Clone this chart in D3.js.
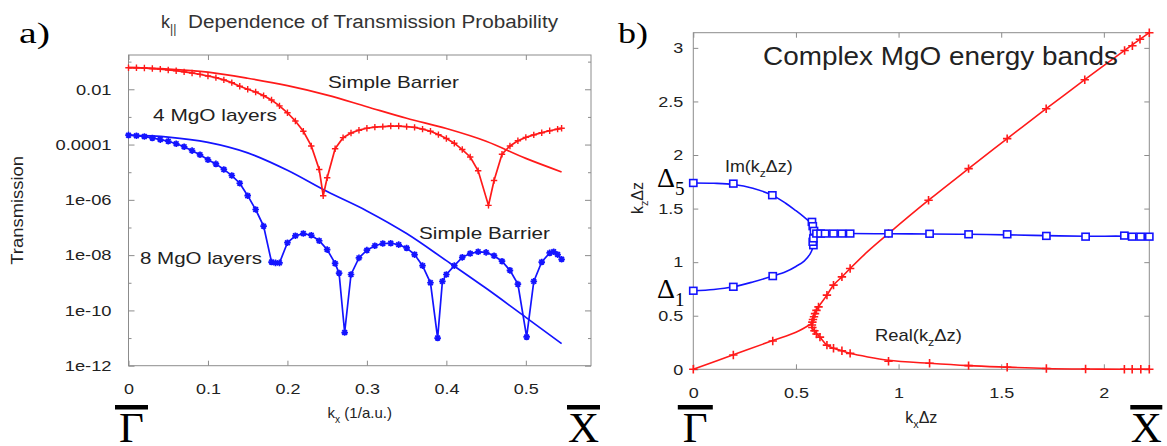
<!DOCTYPE html>
<html><head><meta charset="utf-8">
<script src="https://cdn.jsdelivr.net/npm/d3@7"></script>
<style>body{margin:0;background:#fff}svg{display:block}</style>
</head><body><svg id="c" width="1167" height="446"></svg>
<script>
// ---------- DATA: panel a (log10 of transmission vs kx in 1/a.u.) ----------
const kxTicks = [0, 0.1, 0.2, 0.3, 0.4, 0.5];
const tTickValues = [1e-2, 1e-4, 1e-6, 1e-8, 1e-10, 1e-12];
const tTickLabels = ["0.01", "0.0001", "1e-06", "1e-08", "1e-10", "1e-12"];
const tMinorTicks = [1e-1, 1e-3, 1e-5, 1e-7, 1e-9, 1e-11];

const barrierKx = [0, 0.05, 0.10, 0.15, 0.20, 0.25, 0.30, 0.35, 0.40, 0.45, 0.50, 0.545];
const barrierRedLogT = [-1.22, -1.27, -1.38, -1.60, -1.87, -2.21, -2.63, -3.05, -3.42, -3.88, -4.50, -4.99];
const barrierBlueLogT = [-3.66, -3.73, -3.92, -4.30, -4.93, -5.70, -6.40, -7.22, -8.20, -9.20, -10.25, -11.2];

const mgo4Kx = [0,0.01,0.02,0.03,0.04,0.05,0.06,0.07,0.08,0.09,0.10,0.11,0.12,0.13,0.14,0.15,0.16,0.17,0.18,0.19,0.20,0.21,0.22,0.23,0.24,0.245,0.25,0.26,0.27,0.28,0.29,0.30,0.31,0.32,0.33,0.34,0.35,0.36,0.37,0.38,0.39,0.40,0.41,0.42,0.43,0.44,0.453,0.46,0.47,0.48,0.49,0.50,0.51,0.52,0.53,0.54,0.545];
const mgo4LogT = [-1.22,-1.22,-1.23,-1.25,-1.27,-1.30,-1.33,-1.37,-1.41,-1.46,-1.52,-1.58,-1.66,-1.76,-1.89,-2.00,-2.10,-2.23,-2.39,-2.60,-2.85,-3.15,-3.52,-4.05,-4.90,-5.85,-5.20,-4.15,-3.75,-3.58,-3.48,-3.41,-3.37,-3.35,-3.33,-3.33,-3.35,-3.38,-3.44,-3.52,-3.64,-3.78,-3.95,-4.18,-4.45,-4.95,-6.20,-5.30,-4.35,-4.05,-3.86,-3.74,-3.65,-3.57,-3.50,-3.44,-3.41];

const mgo8Kx = [0,0.01,0.02,0.03,0.04,0.05,0.06,0.07,0.08,0.09,0.10,0.11,0.12,0.13,0.14,0.15,0.16,0.17,0.18,0.185,0.19,0.20,0.21,0.22,0.23,0.24,0.25,0.26,0.265,0.272,0.28,0.29,0.30,0.31,0.32,0.33,0.34,0.35,0.36,0.37,0.38,0.389,0.395,0.40,0.41,0.42,0.43,0.44,0.45,0.46,0.47,0.48,0.49,0.501,0.51,0.52,0.53,0.535,0.54,0.545];
const mgo8LogT = [-3.66,-3.68,-3.71,-3.76,-3.82,-3.88,-3.97,-4.08,-4.22,-4.37,-4.55,-4.70,-4.90,-5.12,-5.40,-5.85,-6.35,-6.95,-8.25,-8.28,-8.28,-7.55,-7.30,-7.22,-7.28,-7.48,-7.80,-8.30,-8.65,-10.8,-8.70,-8.10,-7.82,-7.66,-7.58,-7.57,-7.62,-7.74,-7.98,-8.38,-9.00,-11.0,-8.95,-8.70,-8.38,-8.08,-7.94,-7.88,-7.90,-8.02,-8.22,-8.55,-9.05,-10.96,-8.95,-8.25,-7.92,-7.88,-7.98,-8.15];

// ---------- DATA: panel b (complex bands, kz*dz vs kx*dz) ----------
const kxdzTicks = [0, 0.5, 1, 1.5, 2];
const kzdzTicks = [0, 0.5, 1, 1.5, 2, 2.5, 3];

const realRiseX = [0, 0.195, 0.387, 0.5, 0.575];
const realRiseY = [0, 0.135, 0.268, 0.345, 0.425];
const realUpX = [0.575,0.58,0.59,0.61,0.651,0.683,0.724,0.764,0.85,0.951,1.146,1.341,1.529,1.719,1.907,2.101,2.2214];
const realUpY = [0.425,0.47,0.52,0.583,0.692,0.786,0.863,0.941,1.10,1.267,1.578,1.873,2.153,2.432,2.703,2.976,3.1416];
const realLowX = [0.575,0.58,0.593,0.617,0.651,0.683,0.724,0.764,0.85,0.951,1.151,1.341,1.529,1.72,1.911,2.10,2.2214];
const realLowY = [0.425,0.385,0.35,0.30,0.226,0.196,0.173,0.149,0.115,0.085,0.056,0.034,0.02,0.008,0.003,0.001,0];
const realMarkX = [0,0.195,0.387,0.578,0.58,0.583,0.588,0.593,0.60,0.61,0.651,0.683,0.724,0.764,0.951,1.146,1.341,1.529,1.719,1.907,2.101,2.139,2.176,2.2214,0.58,0.59,0.60,0.617,0.651,0.683,0.724,0.764,0.951,1.151,1.341,1.529,1.72,1.911,2.10,2.138,2.18,2.2214];
const realMarkY = [0,0.133,0.264,0.413,0.44,0.465,0.49,0.52,0.55,0.583,0.692,0.786,0.863,0.941,1.267,1.578,1.873,2.153,2.432,2.703,2.976,3.02,3.08,3.1416,0.39,0.36,0.33,0.30,0.226,0.196,0.173,0.149,0.075,0.056,0.034,0.019,0.008,0.003,0,0,0,0];

const imUpX = [0,0.1,0.195,0.29,0.385,0.45,0.5,0.54,0.57,0.585,0.595,0.6];
const imUpY = [1.739,1.736,1.725,1.69,1.625,1.55,1.48,1.42,1.37,1.33,1.29,1.267];
const imLowX = [0,0.1,0.195,0.29,0.387,0.45,0.5,0.54,0.57,0.585,0.595,0.6];
const imLowY = [0.733,0.745,0.77,0.815,0.87,0.91,0.96,1.01,1.08,1.15,1.22,1.262];
const imFlatX = [0.6,0.642,0.683,0.724,0.764,0.951,1.151,1.341,1.529,1.72,1.911,2.10,2.138,2.179,2.2214];
const imFlatY = [1.267,1.268,1.268,1.268,1.267,1.265,1.263,1.26,1.255,1.248,1.242,1.242,1.238,1.238,1.238];
const imMarkX = [0,0.195,0.385,0.578,0.582,0.588,0,0.195,0.387,0.585,0.582,0.585,0.60,0.62,0.642,0.683,0.724,0.764,0.951,1.151,1.341,1.529,1.72,1.911,2.10,2.138,2.179,2.2214];
const imMarkY = [1.739,1.733,1.625,1.376,1.336,1.292,0.733,0.77,0.87,1.158,1.19,1.222,1.267,1.267,1.267,1.267,1.267,1.267,1.267,1.265,1.26,1.26,1.245,1.238,1.248,1.238,1.238,1.238];

// ---------- helpers ----------
const SANS = '"Liberation Sans", Arial, Helvetica, sans-serif';
const SERIF = '"Liberation Serif", "Times New Roman", serif';
const RED = '#ff1a1a', BLUE = '#1414ff', FRAME = '#8c8c8c', INK = '#222';
const zip = (a, b) => a.map((v, i) => [v, b[i]]);
const svg = d3.select('#c');

function stretch(sel, f) {
  sel.each(function () {
    const w = this.getComputedTextLength();
    this.setAttribute('textLength', (w * f).toFixed(1));
    this.setAttribute('lengthAdjust', 'spacingAndGlyphs');
  });
}
function rich(parent, x, y, parts, size, anchor) {
  const t = parent.append('text').attr('x', x).attr('y', y)
    .attr('font-family', SANS).attr('font-size', size).attr('fill', INK)
    .attr('text-anchor', anchor || 'start');
  let sub = false;
  parts.forEach(p => {
    const s = p.startsWith('_');
    const ts = t.append('tspan').text(s ? p.slice(1) : p);
    if (s && !sub) ts.attr('dy', size * 0.3).attr('font-size', size * 0.68);
    else if (!s && sub) ts.attr('dy', -size * 0.3);
    else if (s) ts.attr('font-size', size * 0.68);
    sub = s;
  });
  return t;
}
const plusPath = r => `M${-r},0H${r}M0,${-r}V${r}`;
const starPath = r => { const a = r * 0.72; return `M${-r},0H${r}M0,${-r}V${r}M${-a},${-a}L${a},${a}M${-a},${a}L${a},${-a}`; };

function styleAxis(g, size) {
  g.select('.domain').remove();
  g.selectAll('.tick line').attr('stroke', FRAME).attr('stroke-width', 1);
  g.selectAll('text').attr('fill', INK).attr('font-family', SANS).attr('font-size', size);
}
function glyph(x, barW, letter) {
  svg.append('rect').attr('x', x - barW / 2).attr('y', 405).attr('width', barW).attr('height', 4.5).attr('fill', '#000');
  svg.append('text').attr('x', x).attr('y', 442).attr('text-anchor', 'middle')
    .attr('font-family', SERIF).attr('font-size', 43).attr('fill', '#000').text(letter);
}

// ================= PANEL A =================
const xA = d3.scaleLinear().domain([0, 0.582]).range([128.5, 591]);
const yA = d3.scaleLog().domain([1e-12, Math.pow(10, -0.76)]).range([365.7, 55]);
const gA = svg.append('g');
const [ax0, ax1] = xA.range(), [ay0, ay1] = yA.range();

gA.append('g').attr('transform', `translate(0,${ay0})`)
  .call(d3.axisBottom(xA).tickValues(kxTicks).tickFormat(d3.format('')).tickSize(-5).tickPadding(18))
  .call(styleAxis, 15).call(g => stretch(g.selectAll('text'), 1.2));
gA.append('g').attr('transform', `translate(0,${ay1})`)
  .call(d3.axisTop(xA).tickValues(kxTicks).tickFormat('').tickSize(-5)).call(styleAxis, 15);
gA.append('g').attr('transform', `translate(${ax0},0)`)
  .call(d3.axisLeft(yA).tickValues(tTickValues).tickFormat((d, i) => tTickLabels[i]).tickSize(-6).tickPadding(17))
  .call(styleAxis, 15).call(g => stretch(g.selectAll('text'), 1.22));
gA.append('g').attr('transform', `translate(${ax0},0)`)
  .call(d3.axisLeft(yA).tickValues(tMinorTicks).tickFormat('').tickSize(-3)).call(styleAxis, 15);
gA.append('g').attr('transform', `translate(${ax1},0)`)
  .call(d3.axisRight(yA).tickValues(tTickValues).tickFormat('').tickSize(-6)).call(styleAxis, 15);
gA.append('g').attr('transform', `translate(${ax1},0)`)
  .call(d3.axisRight(yA).tickValues(tMinorTicks).tickFormat('').tickSize(-3)).call(styleAxis, 15);
gA.append('rect').attr('x', ax0).attr('y', ay1).attr('width', ax1 - ax0).attr('height', ay0 - ay1)
  .attr('fill', 'none').attr('stroke', FRAME).attr('stroke-width', 1);

const lineA = d3.line().x(d => xA(d[0])).y(d => yA(Math.pow(10, d[1])));
gA.append('path').attr('d', lineA.curve(d3.curveMonotoneX)(zip(barrierKx, barrierRedLogT)))
  .attr('fill', 'none').attr('stroke', RED).attr('stroke-width', 1.7);
gA.append('path').attr('d', lineA.curve(d3.curveMonotoneX)(zip(barrierKx, barrierBlueLogT)))
  .attr('fill', 'none').attr('stroke', BLUE).attr('stroke-width', 1.7);
gA.append('path').attr('d', lineA.curve(d3.curveLinear)(zip(mgo4Kx, mgo4LogT)))
  .attr('fill', 'none').attr('stroke', RED).attr('stroke-width', 1.7);
gA.append('path').attr('d', lineA.curve(d3.curveLinear)(zip(mgo8Kx, mgo8LogT)))
  .attr('fill', 'none').attr('stroke', BLUE).attr('stroke-width', 1.7);
gA.append('g').selectAll('path').data(zip(mgo4Kx, mgo4LogT)).join('path')
  .attr('transform', d => `translate(${xA(d[0])},${yA(Math.pow(10, d[1]))})`)
  .attr('d', plusPath(3.2)).attr('stroke', RED).attr('stroke-width', 1.4).attr('fill', 'none');
gA.append('g').selectAll('path').data(zip(mgo8Kx, mgo8LogT)).join('path')
  .attr('transform', d => `translate(${xA(d[0])},${yA(Math.pow(10, d[1]))})`)
  .attr('d', starPath(3.3)).attr('stroke', BLUE).attr('stroke-width', 1.7).attr('fill', 'none');

// annotations panel a
const annA = [
  ['Simple Barrier', 328, 88, 131],
  ['4 MgO layers', 153, 121, 124],
  ['Simple Barrier', 419, 239, 131],
  ['8 MgO layers', 140, 264, 122]
];
annA.forEach(a => {
  gA.append('text').attr('x', a[1]).attr('y', a[2]).attr('font-family', SANS).attr('font-size', 17)
    .attr('fill', INK).attr('textLength', a[3]).attr('lengthAdjust', 'spacingAndGlyphs').text(a[0]);
});
// title
rich(gA, 161, 28, ['k', '_||'], 18).attr('fill', '#333');
gA.append('text').attr('x', 188).attr('y', 28).attr('font-family', SANS).attr('font-size', 18)
  .attr('fill', '#333').attr('textLength', 370).attr('lengthAdjust', 'spacingAndGlyphs')
  .text('Dependence of Transmission Probability');
gA.append('text').attr('x', 19).attr('y', 43).attr('font-family', SERIF).attr('font-size', 30)
  .attr('textLength', 31).attr('lengthAdjust', 'spacingAndGlyphs').text('a)');
gA.append('text').attr('transform', `translate(23,${(ay0 + ay1) / 2}) rotate(-90)`).attr('text-anchor', 'middle')
  .attr('font-family', SANS).attr('font-size', 16).attr('fill', INK).text('Transmission').call(stretch, 1.15);
rich(gA, (ax0 + ax1) / 2, 418, ['k', '_x', ' (1/a.u.)'], 15, 'middle');

// ================= PANEL B =================
const xB = d3.scaleLinear().domain([0, 2.2214]).range([693.3, 1149.3]);
const yB = d3.scaleLinear().domain([0, Math.PI]).range([369.3, 32.7]);
const gB = svg.append('g');
const [bx0, bx1] = xB.range(), [by0, by1] = yB.range();

gB.append('g').attr('transform', `translate(0,${by0})`)
  .call(d3.axisBottom(xB).tickValues(kxdzTicks).tickFormat(d3.format('')).tickSize(-5).tickPadding(18))
  .call(styleAxis, 15).call(g => stretch(g.selectAll('text'), 1.2));
gB.append('g').attr('transform', `translate(0,${by1})`)
  .call(d3.axisTop(xB).tickValues(kxdzTicks).tickFormat('').tickSize(-5)).call(styleAxis, 15);
gB.append('g').attr('transform', `translate(${bx0},0)`)
  .call(d3.axisLeft(yB).tickValues(kzdzTicks).tickFormat(d3.format('')).tickSize(-5).tickPadding(10))
  .call(styleAxis, 15).call(g => stretch(g.selectAll('text'), 1.2));
gB.append('g').attr('transform', `translate(${bx1},0)`)
  .call(d3.axisRight(yB).tickValues(kzdzTicks).tickFormat('').tickSize(-5)).call(styleAxis, 15);
gB.append('rect').attr('x', bx0).attr('y', by1).attr('width', bx1 - bx0).attr('height', by0 - by1)
  .attr('fill', 'none').attr('stroke', FRAME).attr('stroke-width', 1);

const lineB = d3.line().x(d => xB(d[0])).y(d => yB(d[1])).curve(d3.curveCatmullRom.alpha(0.5));
[[realRiseX, realRiseY], [realUpX, realUpY], [realLowX, realLowY]].forEach(s => {
  gB.append('path').attr('d', lineB(zip(s[0], s[1]))).attr('fill', 'none').attr('stroke', RED).attr('stroke-width', 1.6);
});
[[imUpX, imUpY], [imLowX, imLowY], [imFlatX, imFlatY]].forEach(s => {
  gB.append('path').attr('d', lineB(zip(s[0], s[1]))).attr('fill', 'none').attr('stroke', BLUE).attr('stroke-width', 1.6);
});
gB.append('g').selectAll('path').data(zip(realMarkX, realMarkY)).join('path')
  .attr('transform', d => `translate(${xB(d[0])},${yB(d[1])})`)
  .attr('d', plusPath(4.2)).attr('stroke', RED).attr('stroke-width', 1.6).attr('fill', 'none');
gB.append('g').selectAll('rect').data(zip(imMarkX, imMarkY)).join('rect')
  .attr('x', d => xB(d[0]) - 3.6).attr('y', d => yB(d[1]) - 3.4).attr('width', 7.2).attr('height', 6.8)
  .attr('stroke', BLUE).attr('stroke-width', 1.6).attr('fill', '#fff');

// annotations panel b
gB.append('text').attr('x', 763).attr('y', 65).attr('font-family', SANS).attr('font-size', 25)
  .attr('fill', INK).attr('textLength', 355).attr('lengthAdjust', 'spacingAndGlyphs').text('Complex MgO energy bands');
rich(gB, 725, 172, ['Im(k', '_z', 'Δz)'], 17).call(stretch, 1.05);
rich(gB, 875, 341, ['Real(k', '_z', 'Δz)'], 17).call(stretch, 1.08);
rich(gB, (bx0 + bx1) / 2, 423, ['k', '_x', 'Δz'], 16, 'middle');
gB.append('g').attr('transform', `translate(643,198) rotate(-90)`)
  .call(g => rich(g, 0, 0, ['k', '_z', 'Δz'], 16, 'middle'));
[['5', 187], ['1', 298]].forEach(d => {
  const t = gB.append('text').attr('x', 657).attr('y', d[1]).attr('font-family', SERIF).attr('font-size', 28).attr('fill', '#000');
  t.append('tspan').text('Δ');
  t.append('tspan').attr('dy', 8).attr('font-size', 19).text(d[0]);
});
gB.append('text').attr('x', 618).attr('y', 43).attr('font-family', SERIF).attr('font-size', 30)
  .attr('textLength', 30).attr('lengthAdjust', 'spacingAndGlyphs').text('b)');

// Gamma / X symmetry labels
glyph(xA(0) + 3, 33, 'Γ');
glyph(xA.range()[1] - 7.5, 33, 'X');
glyph(xB(0) + 2, 35, 'Γ');
glyph(xB.range()[1] - 3, 32, 'X');
</script></body></html>
